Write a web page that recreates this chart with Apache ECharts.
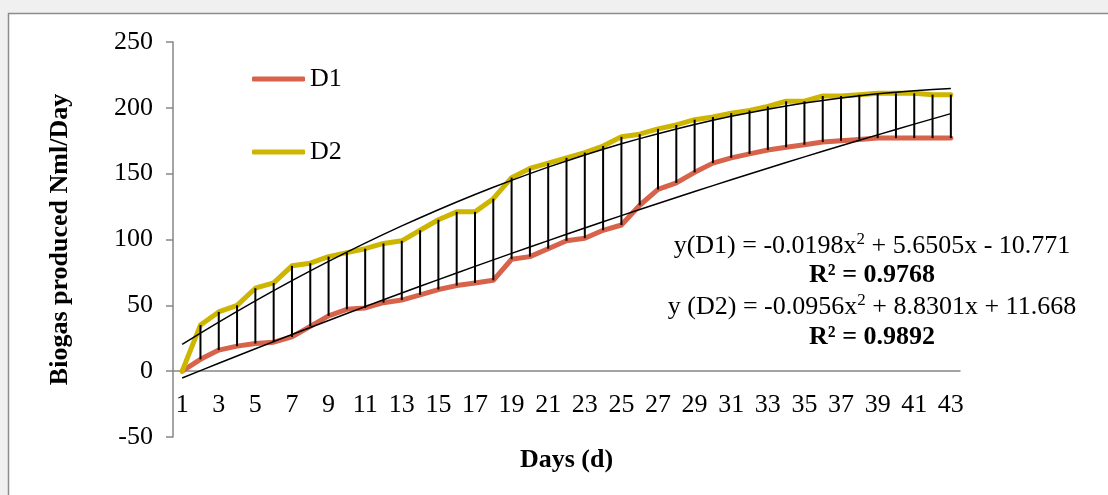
<!DOCTYPE html>
<html>
<head>
<meta charset="utf-8">
<script src="https://cdn.jsdelivr.net/npm/echarts@6/dist/echarts.min.js"></script>
<style>
html,body{margin:0;padding:0;background:#f0f0f0;}
#chart{width:1108px;height:495px;}
</style>
</head>
<body>
<div id="chart"></div>
<script>
var days = ['1','2','3','4','5','6','7','8','9','10','11','12','13','14','15','16','17','18','19','20','21','22','23','24','25','26','27','28','29','30','31','32','33','34','35','36','37','38','39','40','41','42','43'];
var d1 = [0, 9, 16, 19, 21, 22, 26, 34, 42, 47, 48, 52, 54, 58, 62, 65, 67, 69, 85, 87, 93, 99, 101, 107, 111, 126, 138, 143, 151, 158, 162, 165, 168, 170, 172, 174, 175, 176, 177, 177, 177, 177, 177];
var d2 = [0, 35, 45, 50, 63, 67, 80, 82, 87, 90, 93, 97, 99, 107, 115, 121, 121, 131, 147, 154, 158, 162, 166, 171, 178, 180, 184, 187, 191, 193, 196, 198, 201, 205, 205, 209, 209, 210, 211, 211, 211, 210, 210];
// quadratic trendline coefficients as printed on the chart: [a, b, c] for a*x^2 + b*x + c
var fitD1 = [-0.0198, 5.6505, -10.771];
var fitD2 = [-0.0956, 8.8301, 11.668];
var eqLines = [
  'y(D1) = -0.0198x{s|2} + 5.6505x - 10.771',
  'R² = 0.9768',
  'y (D2) = -0.0956x{s|2} + 8.8301x + 11.668',
  'R² = 0.9892'
];

function trend(c){
  return days.map(function(d, i){ var x = i + 1; return c[0]*x*x + c[1]*x + c[2]; });
}
var hl = days.map(function(d, i){ return [i, d1[i], d2[i]]; });

var FONT = '"Liberation Serif", "Times New Roman", serif';
var FS = 26;
var chart = echarts.init(document.getElementById('chart'));
var eqY = [246, 275, 307, 337];
var graphics = [{
  type: 'rect', z: -10, silent: true,
  shape: {x: 8.5, y: 13.5, width: 1120, height: 500},
  style: {fill: '#ffffff', stroke: '#8c8c8c', lineWidth: 1.5}
}];
eqLines.forEach(function(t, k){
  var bold = (k % 2 === 1);
  graphics.push({
    type: 'text', x: 872, y: eqY[k],
    style: {
      text: t, fontFamily: FONT, fontSize: FS, fontWeight: bold ? 'bold' : 'normal',
      fill: '#000', align: 'center', verticalAlign: 'middle', lineHeight: 30,
      rich: {s: {fontSize: 17, fontFamily: FONT, verticalAlign: 'top', lineHeight: 30, fill: '#000'}}
    }
  });
});

chart.setOption({
  backgroundColor: '#f0f0f0',
  animation: false,
  graphic: graphics,
  grid: {left: 173, right: 148, top: 42, bottom: 58, containLabel: false, outerBoundsMode: 'none'},
  legend: {
    data: ['D1', 'D2'], orient: 'vertical', left: 252, top: 66, padding: 0,
    icon: 'roundRect', itemWidth: 53, itemHeight: 5, itemGap: 47,
    textStyle: {fontFamily: FONT, fontSize: FS, lineHeight: 26, color: '#000'}
  },
  xAxis: {
    type: 'category', data: days, boundaryGap: true,
    axisLine: {onZero: true, lineStyle: {color: '#868686', width: 1.5}},
    axisTick: {show: false},
    axisLabel: {interval: 1, margin: -45, color: '#000', fontFamily: FONT, fontSize: FS},
    name: 'Days (d)', nameLocation: 'middle', nameGap: 10,
    nameTextStyle: {fontFamily: FONT, fontSize: FS, fontWeight: 'bold', color: '#000'},
    splitLine: {show: false}
  },
  yAxis: {
    type: 'value', min: -50, max: 250, interval: 50,
    axisLine: {show: true, lineStyle: {color: '#868686', width: 1.5}},
    axisTick: {show: true, length: 7, lineStyle: {color: '#868686', width: 1.5}},
    axisLabel: {margin: 20, color: '#000', fontFamily: FONT, fontSize: FS},
    splitLine: {show: false},
    name: 'Biogas produced Nml/Day', nameLocation: 'middle', nameGap: 100,
    nameTextStyle: {fontFamily: FONT, fontSize: FS, fontWeight: 'bold', color: '#000'}
  },
  series: [
    {name: 'D1', type: 'line', data: d1, symbol: 'none', z: 2,
     lineStyle: {color: '#D8634B', width: 5, cap: 'round', join: 'round'}, itemStyle: {color: '#D8634B'}},
    {name: 'D2', type: 'line', data: d2, symbol: 'none', z: 2,
     lineStyle: {color: '#CDB500', width: 5, cap: 'round', join: 'round'}, itemStyle: {color: '#CDB500'}},
    {name: 'hl', type: 'custom', data: hl, z: 3, silent: true,
     encode: {x: 0, y: [1, 2]},
     renderItem: function(params, api){
       var p1 = api.coord([api.value(0), api.value(1)]);
       var p2 = api.coord([api.value(0), api.value(2)]);
       return {type: 'line', shape: {x1: p1[0], y1: p1[1], x2: p2[0], y2: p2[1]},
               style: {stroke: '#000', lineWidth: 2}};
     }},
    {name: 'trend D1', type: 'line', data: trend(fitD1), symbol: 'none', z: 4, smooth: false,
     lineStyle: {color: '#000', width: 1.5}},
    {name: 'trend D2', type: 'line', data: trend(fitD2), symbol: 'none', z: 4, smooth: false,
     lineStyle: {color: '#000', width: 1.5}}
  ]
});
</script>
</body>
</html>
